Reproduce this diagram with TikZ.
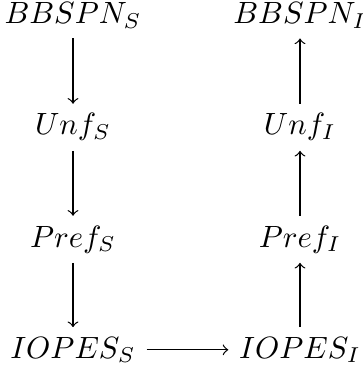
\documentclass[tikz,border=0pt]{standalone}
\usetikzlibrary{arrows}
\begin{document}
\begin{tikzpicture}[x=0.325pt,y=-0.325pt,
  obj/.style={inner sep=0pt, anchor=base},
  map/.style={->, >=to, line width=0.4pt},
  vmap/.style={map, shorten <=3pt, shorten >=3pt},
  hmap/.style={map, shorten <=3.3pt, shorten >=3.3pt}]
\useasboundingbox (0,0) rectangle (362,376);
% left column: semantics side
\node[obj] (bs) at (73,24) {$BBSPN_S$};
\node[obj] (us) at (73,135) {$Unf_S$};
\node[obj] (ps) at (73,247) {$Pref_S$};
\node[obj] (is) at (73,358) {$IOPES_S$};
% right column: implementation side
\node[obj] (bi) at (300,24) {$BBSPN_I$};
\node[obj] (ui) at (300,135) {$Unf_I$};
\node[obj] (pi) at (300,247) {$Pref_I$};
\node[obj] (ii) at (300,358) {$IOPES_I$};
% maps down the left column
\draw[vmap] (bs.south) -- (us.north);
\draw[vmap] (us.south) -- (ps.north);
\draw[vmap] (ps.south) -- (is.north);
% bottom map
\draw[hmap] (is.east) -- (ii.west);
% maps up the right column
\draw[vmap] (ii.north) -- (pi.south);
\draw[vmap] (pi.north) -- (ui.south);
\draw[vmap] (ui.north) -- (bi.south);
\end{tikzpicture}
\end{document}
